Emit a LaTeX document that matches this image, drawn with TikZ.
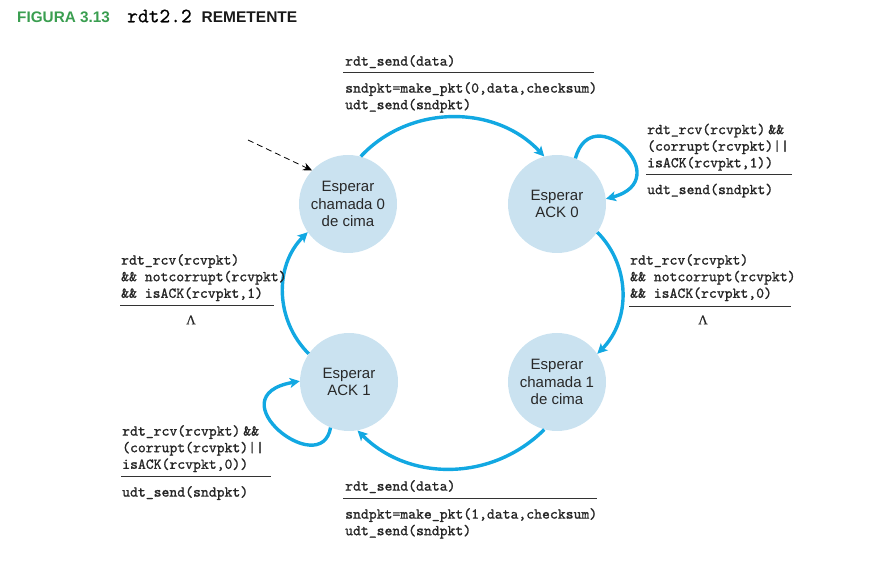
\documentclass[tikz,border=0pt]{standalone}
\usepackage{fontspec}
\setmainfont{Liberation Sans}
\newfontfamily\monof[FakeBold=1.2]{lmmono10-regular.otf}
\newfontfamily\titlemono[FakeBold=0.5]{lmmono10-regular.otf}
\newfontfamily\sansf{Liberation Sans}
\newfontfamily\lamf[FakeBold=0.6]{Liberation Serif}
\usetikzlibrary{arrows.meta}
\definecolor{arc}{RGB}{18,168,226}
\definecolor{fillc}{RGB}{202,226,240}
\definecolor{titlegreen}{RGB}{58,158,80}
\definecolor{txt}{RGB}{40,40,40}
\begin{document}
\begin{tikzpicture}[x=1pt,y=1pt,
  stnode/.style={circle, fill=fillc, minimum size=98pt, inner sep=0pt, align=center,
    text=txt, font=\sansf\fontsize{15}{17.5}\selectfont},
  trans/.style={draw=arc, line width=3.4pt, -{Stealth[length=10pt,width=10pt,inset=2.5pt]}},
  lbl/.style={font=\monof\fontsize{15}{16.6}\selectfont, align=left, inner sep=0pt, anchor=north west, text=black!85},
  rulel/.style={draw=black!80, line width=0.9pt},
  lam/.style={font=\lamf\fontsize{13}{13}\selectfont, inner sep=0pt, text=black!85}]
\useasboundingbox (0,0) rectangle (876,-561);

% title
\node[anchor=base west, inner sep=0pt, font=\sansf\bfseries\fontsize{15.3}{15.3}\selectfont, text=titlegreen] (ttl1) at (17,-22.3) {FIGURA 3.13};
\node[anchor=base west, inner sep=0pt, font=\titlemono\fontsize{20.5}{20.5}\selectfont] (ttl2) at (127,-22.3) {rdt2.2};
\node[anchor=base west, inner sep=0pt, font=\sansf\bfseries\fontsize{15.5}{15.5}\selectfont, text=black!90] (ttl3) at (201.5,-22.3) {REMETENTE};

% states
\node[stnode] (c0) at (348,-204) {Esperar\\chamada 0\\de cima};
\node[stnode] (a0) at (557,-204) {Esperar\\ACK 0};
\node[stnode] (c1) at (557,-382) {Esperar\\chamada 1\\de cima};
\node[stnode] (a1) at (349,-382) {Esperar\\ACK 1};

% initial dashed arrow
\coordinate (init) at (248,-140);
\draw[black, line width=0.8pt, dash pattern=on 6pt off 4pt, -{Stealth[length=9pt,width=8pt]}] (init) -- (c0.137);

% transitions
\draw[trans] (c0.75) to[out=47,in=133] (a0.105);
\draw[trans] (a0.-35) to[out=-45,in=45] (c1.35);
\draw[trans] (c1.-105) to[out=-135,in=-45] (a1.-80);
\draw[trans] (a1.145) to[out=135,in=-135] (c0.-145);
\draw[trans] (a0.68) to[out=75,in=15,out looseness=3.2,in looseness=3.8] (a0.6);
\draw[trans] (a1.-112) to[out=-100,in=190,out looseness=2.5,in looseness=4.0] (a1.179);

% top label
\node[lbl] (t1a) at (345,-55) {rdt\_send(data)};
\draw[rulel] (343,-72.5) -- (594,-72.5);
\node[lbl] (t1b) at (345,-82) {sndpkt=make\_pkt(0,data,checksum)\\udt\_send(sndpkt)};

% ACK0 self-loop label
\node[lbl] (t2a) at (647,-123.5) {rdt\_rcv(rcvpkt)\hspace{3pt}\&\&\\(corrupt(rcvpkt)||\\isACK(rcvpkt,1))};
\draw[rulel] (646,-174) -- (792,-174);
\node[lbl] (t2b) at (647,-183.5) {udt\_send(sndpkt)};

% right label
\node[lbl] (t3a) at (630,-254) {rdt\_rcv(rcvpkt)\\\&\& notcorrupt(rcvpkt)\\\&\& isACK(rcvpkt,0)};
\draw[rulel] (629,-306) -- (791,-306);
\node[lam] (l3) at (703,-320) {Λ};

% left label
\node[lbl] (t4a) at (121,-254) {rdt\_rcv(rcvpkt)\\\&\& notcorrupt(rcvpkt)\\\&\& isACK(rcvpkt,1)};
\draw[rulel] (120,-305.5) -- (274,-305.5);
\node[lam] (l4) at (191,-320) {Λ};

% ACK1 self-loop label
\node[lbl] (t5a) at (122,-425) {rdt\_rcv(rcvpkt)\hspace{3pt}\&\&\\(corrupt(rcvpkt)||\\isACK(rcvpkt,0))};
\draw[rulel] (121,-476.5) -- (271,-476.5);
\node[lbl] (t5b) at (122,-486) {udt\_send(sndpkt)};

% bottom label
\node[lbl] (t6a) at (345,-480) {rdt\_send(data)};
\draw[rulel] (343,-498.5) -- (597,-498.5);
\node[lbl] (t6b) at (345,-508) {sndpkt=make\_pkt(1,data,checksum)\\udt\_send(sndpkt)};
\end{tikzpicture}
\end{document}
